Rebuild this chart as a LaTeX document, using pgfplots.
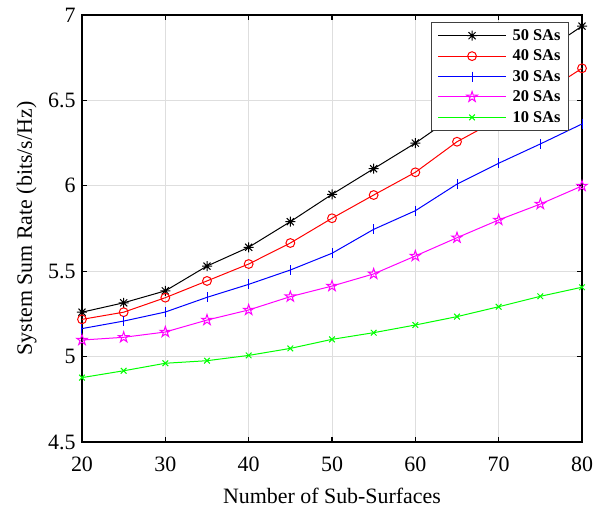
\documentclass[border=0pt]{standalone}
\usepackage{fontspec}
\setmainfont{Liberation Serif}
\usepackage{pgfplots}
\pgfplotsset{compat=1.18}

\pgfdeclareplotmark{ast8}{%
  \pgfpathmoveto{\pgfqpoint{-\pgfplotmarksize}{0pt}}\pgfpathlineto{\pgfqpoint{\pgfplotmarksize}{0pt}}%
  \pgfpathmoveto{\pgfqpoint{0pt}{-\pgfplotmarksize}}\pgfpathlineto{\pgfqpoint{0pt}{\pgfplotmarksize}}%
  \pgfpathmoveto{\pgfqpoint{-0.7071\pgfplotmarksize}{-0.7071\pgfplotmarksize}}\pgfpathlineto{\pgfqpoint{0.7071\pgfplotmarksize}{0.7071\pgfplotmarksize}}%
  \pgfpathmoveto{\pgfqpoint{-0.7071\pgfplotmarksize}{0.7071\pgfplotmarksize}}\pgfpathlineto{\pgfqpoint{0.7071\pgfplotmarksize}{-0.7071\pgfplotmarksize}}%
  \pgfusepathqstroke}

\pgfdeclareplotmark{pentagram}{%
  \pgfpathmoveto{\pgfpointpolar{90}{\pgfplotmarksize}}%
  \pgfpathlineto{\pgfpointpolar{126}{0.382\pgfplotmarksize}}%
  \pgfpathlineto{\pgfpointpolar{162}{\pgfplotmarksize}}%
  \pgfpathlineto{\pgfpointpolar{198}{0.382\pgfplotmarksize}}%
  \pgfpathlineto{\pgfpointpolar{234}{\pgfplotmarksize}}%
  \pgfpathlineto{\pgfpointpolar{270}{0.382\pgfplotmarksize}}%
  \pgfpathlineto{\pgfpointpolar{306}{\pgfplotmarksize}}%
  \pgfpathlineto{\pgfpointpolar{342}{0.382\pgfplotmarksize}}%
  \pgfpathlineto{\pgfpointpolar{18}{\pgfplotmarksize}}%
  \pgfpathlineto{\pgfpointpolar{54}{0.382\pgfplotmarksize}}%
  \pgfpathclose
  \pgfusepathqstroke}

\definecolor{mred}{rgb}{1,0,0}
\definecolor{mblue}{rgb}{0,0,1}
\definecolor{mmag}{rgb}{1,0,1}
\definecolor{mgreen}{rgb}{0,1,0}
\definecolor{gridgray}{gray}{0.87}
\definecolor{legframe}{gray}{0.25}

\begin{document}
\begin{tikzpicture}
\useasboundingbox (-82bp,-66bp) rectangle (520bp,442bp);
\begin{axis}[
  at={(0,0)}, anchor=south west,
  scale only axis, width=500bp, height=427bp,
  xmin=20, xmax=80, ymin=4.5, ymax=7,
  xtick={20,30,...,80},
  ytick={4.5,5,5.5,6,6.5,7},
  yticklabels={4.5,5,5.5,6,6.5,7},
  /pgf/number format/assume math mode=true,
  tick label style={font=\fontsize{22}{26}\selectfont},
  xticklabel style={yshift=-11bp},
  yticklabel style={xshift=-3bp},
  label style={font=\fontsize{22}{26}\selectfont},
  xlabel={Number of Sub-Surfaces},
  ylabel={System Sum Rate (bits/s/Hz)},
  xlabel style={at={(axis description cs:0.5,-0.1429)}, anchor=base},
  ylabel style={at={(axis description cs:-0.1,0.5)}, anchor=base},
  grid=major,
  major grid style={gridgray, line width=1bp},
  axis line style={black, line width=1.5bp},
  tick align=inside,
  major tick length=5bp,
  tick style={black, line width=1.2bp},
  every axis plot/.append style={line width=1bp},
  legend style={at={(axis description cs:0.974,0.9836)}, anchor=north east,
    draw=legframe, line width=1bp, fill=white,
    font=\fontsize{16.5}{19}\selectfont\bfseries,
    inner xsep=6bp, inner ysep=5bp, row sep=4bp, column sep=4bp,
    cells={anchor=west}},
  legend image code/.code={%
    \draw[mark repeat=2,mark phase=2] plot coordinates {(0bp,0bp) (34bp,0bp) (68bp,0bp)};},
]
\addplot[black, mark=ast8, mark size=5bp] coordinates {
(20,5.26) (25,5.315) (30,5.385) (35,5.53) (40,5.64) (45,5.79) (50,5.95)
(55,6.10) (60,6.25) (65,6.42) (70,6.59) (75,6.77) (80,6.935)};
\addlegendentry{50 SAs}
\addplot[mred, mark=o, mark size=4.4bp] coordinates {
(20,5.218) (25,5.26) (30,5.345) (35,5.443) (40,5.542) (45,5.665) (50,5.81)
(55,5.946) (60,6.079) (65,6.258) (70,6.39) (75,6.53) (80,6.688)};
\addlegendentry{40 SAs}
\addplot[mblue, mark=|, mark size=5bp] coordinates {
(20,5.164) (25,5.208) (30,5.261) (35,5.347) (40,5.423) (45,5.507) (50,5.605)
(55,5.745) (60,5.854) (65,6.01) (70,6.132) (75,6.245) (80,6.362)};
\addlegendentry{30 SAs}
\addplot[mmag, mark=pentagram, mark size=5.5bp] coordinates {
(20,5.097) (25,5.113) (30,5.144) (35,5.214) (40,5.273) (45,5.351) (50,5.413)
(55,5.484) (60,5.589) (65,5.696) (70,5.80) (75,5.893) (80,5.999)};
\addlegendentry{20 SAs}
\addplot[mgreen, mark=x, mark size=4bp] coordinates {
(20,4.877) (25,4.917) (30,4.961) (35,4.976) (40,5.007) (45,5.048) (50,5.101)
(55,5.14) (60,5.185) (65,5.234) (70,5.292) (75,5.353) (80,5.406)};
\addlegendentry{10 SAs}
\end{axis}
\end{tikzpicture}
\end{document}
